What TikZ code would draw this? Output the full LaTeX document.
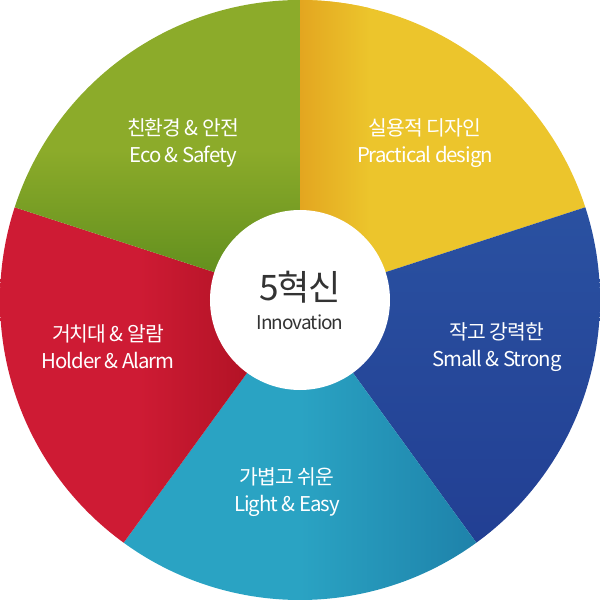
\documentclass[tikz,border=0pt]{standalone}
\usepackage{fontspec}
\setmainfont{Noto Sans CJK KR}[LetterSpace=-5]
\usetikzlibrary{positioning}
\definecolor{ylw}{HTML}{ECC52C}
\definecolor{ylwdark}{HTML}{E3A620}
\definecolor{blu}{HTML}{2A51A1}
\definecolor{bludark}{HTML}{223F93}
\definecolor{cyn}{HTML}{2AA3C3}
\definecolor{cyndark}{HTML}{1E82AA}
\definecolor{rd}{HTML}{CE1B34}
\definecolor{rddark}{HTML}{A50F1F}
\definecolor{grn}{HTML}{8CAB2A}
\definecolor{grndark}{HTML}{5A8A1C}
\definecolor{txtgray}{HTML}{333333}
\tikzset{
  label/.style={text=white,align=center,font=\fontsize{5.8}{7.7}\selectfont},
}
\begin{document}
\begin{tikzpicture}
  \useasboundingbox (-3,-3) rectangle (3,3);
  % sectors
  \begin{scope}
    \clip (0,0) -- (90:3) arc[start angle=90,end angle=18,radius=3] -- cycle;
    \fill[ylw] (0,0) rectangle (3,3);
    \shade[left color=ylwdark,right color=ylw] (0,0) rectangle (0.7,3);
  \end{scope}
  \shade[top color=blu,bottom color=bludark]
    (0,0) -- (18:3) arc[start angle=18,end angle=-54,radius=3] -- cycle;
  \shade[left color=cyn,right color=cyndark,middle color=cyn]
    (0,0) -- (-54:3) arc[start angle=-54,end angle=-126,radius=3] -- cycle;
  \shade[left color=rd,right color=rddark,middle color=rd]
    (0,0) -- (-126:3) arc[start angle=-126,end angle=-198,radius=3] -- cycle;
  \shade[top color=grn,bottom color=grndark,middle color=grn]
    (0,0) -- (162:3) arc[start angle=162,end angle=90,radius=3] -- cycle;
  % centre
  \node[circle,fill=white,minimum size=1.8cm,inner sep=0] (core) at (0,0) {};
  \node[text=txtgray,font=\fontsize{10}{11}\selectfont] (title) at (0,0.13) {5혁신};
  \node[text=txtgray,font=\fontsize{5.4}{6}\selectfont] (sub) at (0,-0.22) {Innovation};
  % labels
  \node[label] (design) at (1.25,1.57) {실용적 디자인\\Practical design};
  \node[label] (small) at (1.97,-0.47) {작고 강력한\\Small \& Strong};
  \node[label] (light) at (-0.13,-1.92) {가볍고 쉬운\\Light \& Easy};
  \node[label] (holder) at (-1.92,-0.47) {거치대 \& 알람\\Holder \& Alarm};
  \node[label] (eco) at (-1.17,1.57) {친환경 \& 안전\\Eco \& Safety};
\end{tikzpicture}
\end{document}
